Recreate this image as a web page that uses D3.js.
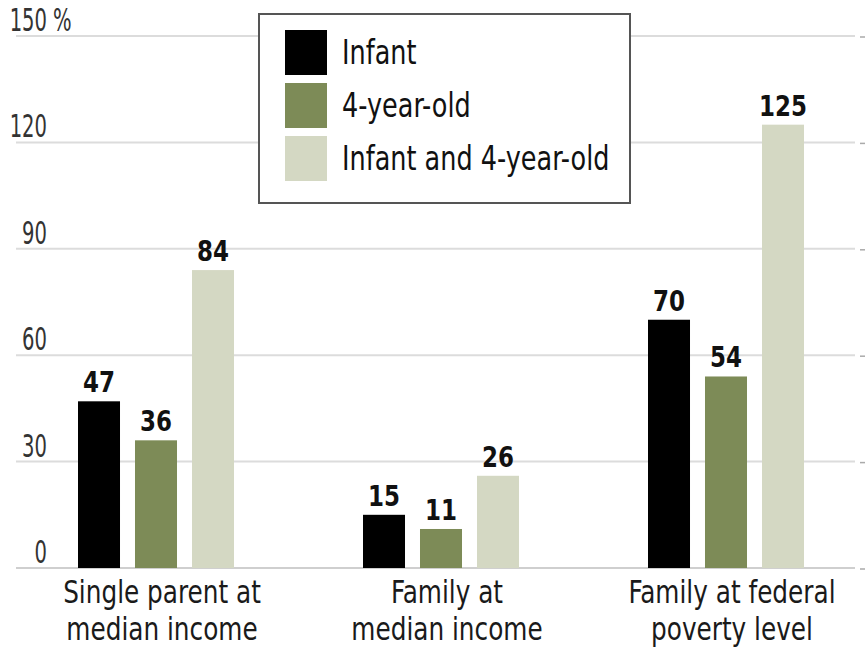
<!DOCTYPE html>
<html>
<head>
<meta charset="utf-8">
<script src="https://cdn.jsdelivr.net/npm/d3@7"></script>
<style>
  html, body { margin: 0; padding: 0; background: #fff; }
  svg { display: block; }
  text { font-family: "DejaVu Sans Condensed", "DejaVu Sans", sans-serif; }
</style>
</head>
<body>
<svg id="chart" width="868" height="648"></svg>
<script>
// Monthly child-care cost as a share of income, by household type
const categories = [
  ["Single parent at", "median income"],
  ["Family at", "median income"],
  ["Family at federal", "poverty level"]
];
const seriesNames = ["Infant", "4-year-old", "Infant and 4-year-old"];
const infant = [47, 15, 70];
const fourYearOld = [36, 11, 54];
const both = [84, 26, 125];
const yTicks = [0, 30, 60, 90, 120, 150];

const colors = ["#000000", "#7d8b57", "#d4d8c3"];
const values = [infant, fourYearOld, both];

const svg = d3.select("#chart");

const y = d3.scaleLinear().domain([0, 150]).range([568, 36]);
const x0 = d3.scaleBand().domain(d3.range(categories.length)).range([13.5, 868.5]).padding(0);
const x1 = d3.scaleBand().domain(d3.range(seriesNames.length)).range([64.5, 220.5]).paddingInner(0.263).paddingOuter(0);

// horizontally compressed text helper
function label(g, x, yy, str, opts) {
  return g.append("text")
    .attr("transform", `translate(${x},${yy}) scale(${opts.sx || 1},1)`)
    .attr("text-anchor", opts.anchor || "start")
    .attr("font-size", opts.size)
    .attr("font-weight", opts.weight || "normal")
    .attr("fill", opts.fill || "#111")
    .text(str);
}

// gridlines
const grid = svg.append("g");
grid.selectAll("line.grid").data(yTicks).join("line")
  .attr("class", "grid")
  .attr("x1", 16).attr("x2", 855)
  .attr("y1", d => y(d)).attr("y2", d => y(d))
  .attr("stroke", d => d === 0 ? "#cfcfcf" : "#dcdcdc")
  .attr("stroke-width", 2);
grid.selectAll("line.edge").data(yTicks).join("line")
  .attr("class", "edge")
  .attr("x1", 860).attr("x2", 865)
  .attr("y1", d => y(d) + 1).attr("y2", d => y(d) + 1)
  .attr("stroke", "#aaa")
  .attr("stroke-width", 1.5);

// y tick labels
const yl = svg.append("g");
yTicks.forEach(t => {
  label(yl, 47, y(t) - 5, String(t), { size: 32, sx: 0.68, anchor: "end", fill: "#333" });
  if (t === 150) label(yl, 53, y(t) - 5, "%", { size: 32, sx: 0.68, fill: "#333" });
});

// bars
const groups = svg.append("g").selectAll("g").data(categories).join("g")
  .attr("transform", (d, i) => `translate(${x0(i)},0)`);

groups.each(function(cat, ci) {
  const g = d3.select(this);
  seriesNames.forEach((s, si) => {
    const v = values[si][ci];
    g.append("rect")
      .attr("x", x1(si))
      .attr("y", y(v))
      .attr("width", x1.bandwidth())
      .attr("height", y(0) - y(v))
      .attr("fill", colors[si]);
    label(g, x1(si) + x1.bandwidth() / 2, y(v) - 9, String(v),
      { size: 29, weight: "bold", anchor: "middle", fill: "#111", sx: 0.88 });
  });
  const cx = x0.bandwidth() / 2;
  label(g, cx + 6, 603, cat[0], { size: 32, sx: 0.86, anchor: "middle", fill: "#1a1a1a" });
  label(g, cx + 6, 640, cat[1], { size: 32, sx: 0.86, anchor: "middle", fill: "#1a1a1a" });
});

// legend
const lg = svg.append("g");
lg.append("rect")
  .attr("x", 259).attr("y", 14)
  .attr("width", 371).attr("height", 189)
  .attr("fill", "#fff")
  .attr("stroke", "#555")
  .attr("stroke-width", 2);
seriesNames.forEach((s, i) => {
  const top = 30 + i * 53;
  lg.append("rect")
    .attr("x", 285).attr("y", top)
    .attr("width", 42).attr("height", 45)
    .attr("fill", colors[i]);
  label(lg, 342, top + 34, s, { size: 33, sx: 0.86, fill: "#111" });
});
</script>
</body>
</html>
